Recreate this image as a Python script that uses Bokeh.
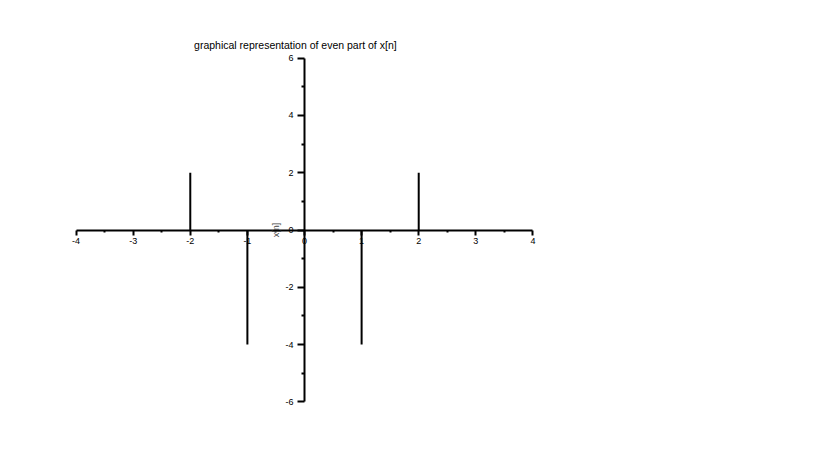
from bokeh.plotting import figure
from bokeh.models import Range1d, FixedTicker, Label, PrintfTickFormatter
from bokeh.embed import file_html
from bokeh.resources import INLINE

# data
n = [-2, -1, 0, 1, 2]
xe = [2, -4, 0, -4, 2]
x_ticks = [-4, -3, -2, -1, 0, 1, 2, 3, 4]
x_minor = [-3.5, -2.5, -1.5, -0.5, 0.5, 1.5, 2.5, 3.5]
y_ticks = [-6, -4, -2, 0, 2, 4, 6]
y_minor = [-5, -3, -1, 1, 3, 5]
title_text = "graphical representation of even part of x[n]"
ylabel = "x[n]"

FONT = "Liberation Sans"

p = figure(width=800, height=450, output_backend="svg", toolbar_location=None,
           x_range=Range1d(-4.5, 4.5), y_range=Range1d(-7, 7),
           frame_width=514, frame_height=401,
           min_border_left=47, min_border_top=29, min_border_bottom=20, min_border_right=239)
p.outline_line_color = None
p.xgrid.visible = False
p.ygrid.visible = False
p.background_fill_color = "white"
p.border_fill_color = "white"

p.segment(x0=n, y0=[0]*len(n), x1=n, y1=xe, line_color="black", line_width=2)

for ax in (p.xaxis, p.yaxis):
    ax.fixed_location = 0
    ax.axis_line_width = 2
    ax.axis_line_color = "black"
    ax.major_tick_line_width = 2
    ax.minor_tick_line_width = 2
    ax.major_tick_in = 0
    ax.minor_tick_in = 0
    ax.major_tick_out = 5
    ax.minor_tick_out = 2
    ax.major_label_text_font = FONT
    ax.major_label_text_font_size = "9px"
    ax.major_label_text_color = "black"
    ax.formatter = PrintfTickFormatter(format="%d")

p.xaxis.bounds = (-4, 4)
p.yaxis.bounds = (-6, 6)
p.xaxis.ticker = FixedTicker(ticks=x_ticks, minor_ticks=x_minor)
p.yaxis.ticker = FixedTicker(ticks=y_ticks, minor_ticks=y_minor)
p.xaxis.major_label_standoff = 3
p.yaxis.major_label_standoff = 4
p.yaxis.major_tick_out = 7
p.yaxis.minor_tick_out = 3
p.yaxis.axis_label = ylabel
p.yaxis.axis_label_text_font = FONT
p.yaxis.axis_label_text_font_size = "9px"
p.yaxis.axis_label_text_font_style = "normal"
p.yaxis.axis_label_standoff = 1

p.add_layout(Label(x=-0.16, y=6.45, text=title_text, text_align="center",
                   text_baseline="middle", text_font=FONT, text_font_size="10.5px",
                   text_color="black"))

open("out.html", "w").write(file_html(p, INLINE))
